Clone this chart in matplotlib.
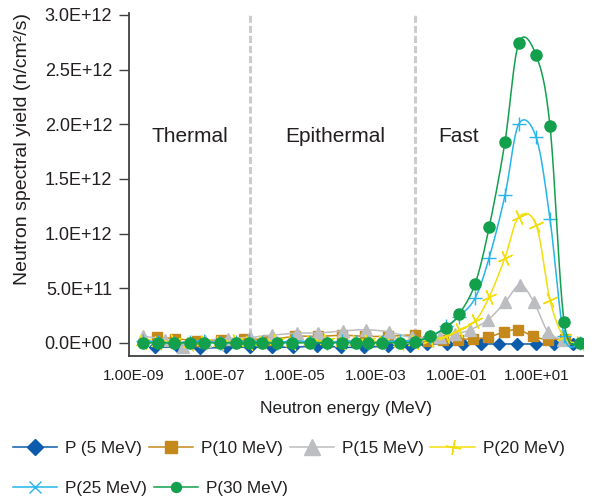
import numpy as np
import matplotlib

matplotlib.use("Agg")
import matplotlib.pyplot as plt  # noqa: E402
from matplotlib.lines import Line2D  # noqa: E402
from matplotlib.ticker import FuncFormatter  # noqa: E402

plt.rcParams["font.family"] = ["Liberation Sans", "DejaVu Sans"]

# Neutron energy (MeV) and spectral yield (units of 1e12 n/cm2/s)
energy_p5 = [3.3e-9, 1.23e-8, 4.4e-8, 1.9e-7, 7.6e-7, 2.6e-6, 8.8e-6, 3.5e-5, 1.37e-4, 5.1e-4,
             2.0e-3, 7.1e-3, 1.86e-2, 5.8e-2, 0.146, 0.41, 1.14, 3.2, 9.5, 26, 78]
yield_p5 = [-0.04, -0.04, -0.05, -0.04, -0.04, -0.04, -0.04, -0.03, -0.04, -0.04,
            -0.03, -0.03, -0.01, -0.01, -0.01, -0.01, -0.01, -0.01, -0.01, -0.01, -0.01]

energy_p10 = [3.7e-9, 1.04e-8, 3.6e-8, 1.44e-7, 5.4e-7, 2.1e-6, 9.9e-6, 3.7e-5, 1.45e-4, 5.4e-4,
              2.0e-3, 9.3e-3, 2.0e-2, 4.7e-2, 0.11, 0.26, 0.60, 1.5, 3.4, 7.9, 18.7, 49]
yield_p10 = [0.05, 0.04, 0.02, 0.03, 0.04, 0.03, 0.06, 0.06, 0.07, 0.06,
             0.06, 0.07, 0.02, 0.03, 0.03, 0.04, 0.05, 0.10, 0.12, 0.06, 0.03, 0.04]

energy_p15 = [1.7e-9, 5.9e-9, 1.65e-8, 5.8e-8, 2.1e-7, 7.6e-7, 2.6e-6, 1.1e-5, 3.7e-5, 1.55e-4,
              5.7e-4, 2.1e-3, 7.9e-3, 0.039, 0.093, 0.22, 0.60, 1.6, 3.8, 8.4, 18.7, 44]
yield_p15 = [0.06, 0.03, -0.04, 0.02, 0.04, 0.05, 0.07, 0.09, 0.09, 0.11,
             0.12, 0.10, 0.05, 0.05, 0.08, 0.12, 0.21, 0.37, 0.53, 0.37, 0.10, 0.03]

# the 20, 25 and 30 MeV series share one energy grid
energy_hi = [1.7e-9, 4.0e-9, 9.8e-9, 2.4e-8, 5.5e-8, 1.35e-7, 3.4e-7, 7.1e-7, 1.5e-6, 3.5e-6,
             8.3e-6, 2.3e-5, 6.2e-5, 1.45e-4, 3.2e-4, 6.5e-4, 1.4e-3, 4.0e-3, 9.3e-3, 2.2e-2,
             5.5e-2, 0.115, 0.29, 0.65, 1.6, 3.5, 9.5, 21, 47, 117]
yield_p20 = [0.01, 0.0, 0.02, -0.01, 0.01, 0.0, 0.02, 0.0, 0.01, 0.02,
             0.0, 0.01, 0.02, 0.0, 0.01, 0.02, 0.01, 0.0, 0.01, 0.03,
             0.06, 0.12, 0.20, 0.42, 0.78, 1.15, 1.08, 0.39, 0.05, 0.0]
yield_p25 = [0.02, 0.01, 0.0, 0.01, 0.02, 0.0, 0.01, 0.02, 0.01, 0.0,
             0.02, 0.01, 0.0, 0.02, 0.01, 0.0, 0.01, 0.02, 0.02, 0.05,
             0.15, 0.24, 0.41, 0.78, 1.35, 2.00, 1.88, 1.13, 0.06, 0.0]
yield_p30 = [0.0, 0.0, 0.0, 0.0, 0.0, 0.0, 0.0, 0.0, 0.0, 0.0,
             0.0, 0.0, 0.0, 0.0, 0.0, 0.0, 0.0, 0.0, 0.01, 0.06,
             0.14, 0.26, 0.54, 1.06, 1.84, 2.74, 2.63, 1.98, 0.19, 0.0]

labels = ["P (5 MeV)", "P(10 MeV)", "P(15 MeV)", "P(20 MeV)", "P(25 MeV)", "P(30 MeV)"]
colors = ["#0b5cad", "#c4891a", "#bcbdc0", "#f2de0d", "#25b5ea", "#12a04d"]

region_names = ["Thermal", "Epithermal", "Fast"]
region_x = [2.45e-8, 9.8e-5, 0.116]
region_bounds = [7.6e-7, 9.3e-3]

x_ticks = [1e-9, 1e-7, 1e-5, 1e-3, 1e-1, 1e1]
y_ticks = [0.0, 0.5, 1.0, 1.5, 2.0, 2.5, 3.0]

SCALE = 1e12
XLIM = (7.5e-10, 138)
YLIM = (-0.12, 3.018)
AX_W, AX_H = 454, 343  # axes size in pixels, used for even smoothing


def smooth(x, y, n=20):
    """Catmull-Rom curve through the points (like a spreadsheet 'smoothed line')."""
    lx0, lx1 = np.log10(XLIM[0]), np.log10(XLIM[1])
    px = (np.log10(x) - lx0) / (lx1 - lx0) * AX_W
    py = (np.asarray(y) - YLIM[0]) / (YLIM[1] - YLIM[0]) * AX_H
    pts = np.column_stack([px, py])
    p = np.vstack([pts[0], pts, pts[-1]])
    t = np.linspace(0, 1, n, endpoint=False)[:, None]
    out = []
    for i in range(1, len(p) - 2):
        p0, p1, p2, p3 = p[i - 1], p[i], p[i + 1], p[i + 2]
        out.append(0.5 * (2 * p1 + (-p0 + p2) * t + (2 * p0 - 5 * p1 + 4 * p2 - p3) * t ** 2
                          + (-p0 + 3 * p1 - 3 * p2 + p3) * t ** 3))
    out.append(pts[-1:])
    c = np.vstack(out)
    sx = 10 ** (c[:, 0] / AX_W * (lx1 - lx0) + lx0)
    sy = c[:, 1] / AX_H * (YLIM[1] - YLIM[0]) + YLIM[0]
    return sx, sy


fig = plt.figure(figsize=(5.96, 5.04), dpi=100)
ax = fig.add_axes([129 / 596, 148 / 504, AX_W / 596, AX_H / 504])

# region boundaries
for xb in region_bounds:
    ax.plot([xb, xb], [-0.02 * SCALE, 3.02 * SCALE], color="#cccccc", lw=2.2,
            dashes=(2.3, 1.0), zorder=1)

series = [
    (energy_p5, yield_p5, dict(marker="D", ms=6.6)),
    (energy_p10, yield_p10, dict(marker="s", ms=7)),
    (energy_p15, yield_p15, dict(marker="^", ms=9)),
    (energy_hi, yield_p20, dict(marker=(4, 2, 25), ms=11, mew=1.0)),
    (energy_hi, yield_p25, dict(marker="+", ms=10, mew=1.0)),
    (energy_hi, yield_p30, dict(marker="o", ms=8)),
]
for k, (ex, ey, mk) in enumerate(series):
    sx, sy = smooth(ex, ey)
    ax.plot(sx, np.asarray(sy) * SCALE, color=colors[k], lw=1.1, zorder=2 + k)
    ax.plot(ex, np.asarray(ey) * SCALE, ls="none", color=colors[k],
            mec=colors[k], mfc=colors[k], zorder=2 + k, **mk)

for name, xr in zip(region_names, region_x):
    ax.text(xr, 1.885 * SCALE, name, ha="center", va="center", fontsize=15, color="#231f20")

ax.set_xscale("log")
ax.set_xlim(*XLIM)
ax.set_ylim(YLIM[0] * SCALE, YLIM[1] * SCALE)
ax.set_xticks(x_ticks)
ax.xaxis.set_minor_locator(matplotlib.ticker.NullLocator())
ax.xaxis.set_major_formatter(FuncFormatter(lambda v, _: f"{v:.2E}"))
ax.set_yticks([v * SCALE for v in y_ticks])
ax.yaxis.set_major_formatter(FuncFormatter(lambda v, _: f"{v:.1E}"))
ax.tick_params(axis="x", length=0, pad=9, labelsize=11, labelcolor="#231f20")
ax.tick_params(axis="y", length=7, width=1.0, pad=5, labelsize=13,
               color="#404040", labelcolor="#231f20")

for side in ("top", "right"):
    ax.spines[side].set_visible(False)
for side in ("left", "bottom"):
    ax.spines[side].set_color("#404040")
    ax.spines[side].set_linewidth(1.3)

ax.set_xlabel("Neutron energy (MeV)", fontsize=12.5, color="#231f20", va="center")
ax.xaxis.set_label_coords(0.478, -0.152)
ax.set_ylabel("Neutron spectral yield (n/cm\u00b2/s)", fontsize=14, color="#231f20", va="center")
ax.yaxis.set_label_coords(-0.2335, 0.603)

# legend handles (markers drawn as in the source legend)
legend_markers = [
    dict(marker="D", ms=8.6),
    dict(marker="s", ms=8.5),
    dict(marker="^", ms=11),
    dict(marker=(4, 2, 80), ms=11, mew=1.0),
    dict(marker="x", ms=8.5, mew=1.0),
    dict(marker="o", ms=7.2),
]
handles = [Line2D([], [], color=c, lw=1.1, mfc=c, mec=c, **m)
           for c, m in zip(colors, legend_markers)]

leg_kw = dict(frameon=False, fontsize=12.3, handlelength=2.6, handletextpad=0.45,
              columnspacing=0.4, borderpad=0, borderaxespad=0, loc="center left",
              labelcolor="#231f20")
fig.legend(handles[:4], labels[:4], ncol=4, bbox_to_anchor=(13 / 596, 56 / 504), **leg_kw)
fig.legend(handles[4:], labels[4:], ncol=2, bbox_to_anchor=(13 / 596, 16 / 504), **leg_kw)

fig.savefig("out.png", dpi=100)
